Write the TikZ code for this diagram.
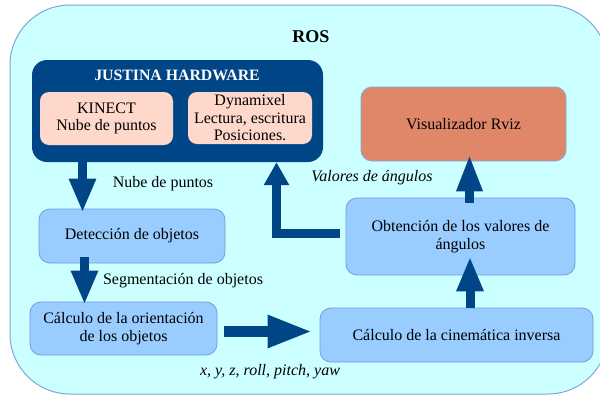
\documentclass[tikz,border=0pt]{standalone}
\usepackage{fontspec}
\setmainfont{Liberation Serif}
\usetikzlibrary{arrows.meta, positioning}
\definecolor{rosbg}{HTML}{CCFFFF}
\definecolor{rosline}{HTML}{7FA7D6}
\definecolor{hwblue}{HTML}{004586}
\definecolor{peach}{HTML}{FFD8CC}
\definecolor{procblue}{HTML}{99CCFF}
\definecolor{procline}{HTML}{6F9ED8}
\definecolor{rvizred}{HTML}{E0876A}

\begin{document}
\begin{tikzpicture}[x=1pt, y=-1pt,
  boxtext/.style={font=\fontsize{16}{17.5}\selectfont},
  labeltext/.style={font=\fontsize{16}{18}\selectfont},
  procbox/.style={rectangle, rounded corners=11pt, draw=procline, fill=procblue, line width=0.8pt, align=center, inner sep=0pt, boxtext},
  hwbox/.style={rectangle, rounded corners=9pt, draw=none, fill=peach, align=center, inner sep=0pt, boxtext},
  rvizbox/.style={procbox, fill=rvizred, draw=rosline},
  blockarrow/.style 2 args={draw=hwblue, line width=9pt, -{Triangle[length=#1, width=#2]}}
]
  \useasboundingbox (0,0) rectangle (600,394);
  \clip (0,0) rectangle (600,394);
  % ROS frame
  \node[rectangle, rounded corners=60pt, draw=rosline, fill=rosbg, line width=1pt, minimum width=598pt, minimum height=389pt, inner sep=0pt] (ros) at (309,199.5) {};
  \node[font=\fontsize{18}{20}\selectfont\bfseries] (rostitle) at (311,37) {ROS};
  % Justina hardware
  \node[rectangle, rounded corners=15pt, fill=hwblue, minimum width=291pt, minimum height=102pt, inner sep=0pt] (jh) at (177.5,111) {};
  \node[font=\fontsize{15.8}{17}\selectfont\bfseries, text=white] (jhtitle) at (177,75) {JUSTINA HARDWARE};
  \node[hwbox, minimum width=133pt, minimum height=53pt] (kinect) at (106.5,118.5) {KINECT\\Nube de puntos};
  \node[hwbox, minimum width=124pt, minimum height=52pt] (dyna) at (250,118) {Dynamixel\\Lectura, escritura\\Posiciones.};
  % Processing blocks
  \node[rvizbox, minimum width=205pt, minimum height=74pt] (rviz) at (463.5,124) {Visualizador Rviz};
  \node[procbox, minimum width=186pt, minimum height=54pt] (detect) at (132,236) {Detección de objetos};
  \node[procbox, minimum width=229pt, minimum height=77pt] (obtain) at (460.5,236.5) {Obtención de los valores de\\ángulos};
  \node[procbox, minimum width=187pt, minimum height=53pt] (orient) at (123.5,328.5) {Cálculo de la orientación\\de los objetos};
  \node[procbox, minimum width=273pt, minimum height=54pt] (kinem) at (456.5,335) {Cálculo de la cinemática inversa};
  % Arrows
  \draw[blockarrow={34pt}{25pt}, shorten >=-4pt] (jh.south -| 82.5,0) -- (detect.north -| 82.5,0);
  \draw[blockarrow={34pt}{25pt}, shorten <=-6pt, shorten >=-3pt] (detect.south -| 84.5,0) -- (orient.north -| 84.5,0);
  \draw[blockarrow={23pt}{24pt}, shorten <=6pt] ([yshift=3.5pt]obtain.west) -| (jh.south -| 276.5,0);
  \draw[blockarrow={37pt}{24pt}, shorten <=-5pt, shorten >=-7pt] (obtain.north -| 469.5,0) -- (rviz.south -| 469.5,0);
  \draw[blockarrow={35pt}{25pt}, shorten >=-19pt] (kinem.north -| 470,0) -- (obtain.south -| 470,0);
  \draw[draw=hwblue, line width=11pt, -{Triangle[length=45pt, width=30pt]}, shorten <=7pt, shorten >=7pt] (orient.east |- 0,331.5) -- (kinem.west |- 0,331.5);
  % Labels
  \node[labeltext] (lblcloud) at (163,184) {Nube de puntos};
  \node[labeltext, font=\fontsize{16}{18}\selectfont\itshape] (lblangles) at (372,178) {Valores de ángulos};
  \node[labeltext] (lblseg) at (183,281) {Segmentación de objetos};
  \node[labeltext, font=\fontsize{16}{18}\selectfont\itshape] (lblpose) at (270,372) {x, y, z, roll, pitch, yaw};
\end{tikzpicture}
\end{document}
